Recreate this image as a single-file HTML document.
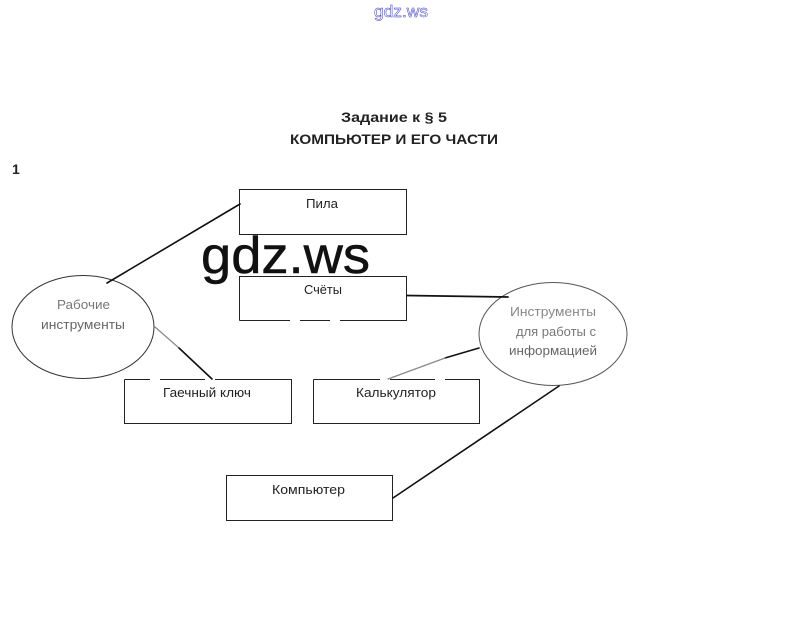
<!DOCTYPE html>
<html><head><meta charset="utf-8"><style>
html,body{margin:0;padding:0;background:#fff}
svg{display:block}
text{font-family:"Liberation Sans","DejaVu Sans",sans-serif;fill:#222}
</style></head><body>
<svg width="802" height="630" viewBox="0 0 802 630" xmlns="http://www.w3.org/2000/svg">
<rect width="802" height="630" fill="#fff"/>
<text x="374" y="17" font-size="17" textLength="54" lengthAdjust="spacingAndGlyphs" style="fill:#fff;stroke:#3a3ac8;stroke-width:.5">gdz.ws</text>
<text x="341" y="122" font-size="14" font-weight="bold" textLength="106" lengthAdjust="spacingAndGlyphs">Задание к § 5</text>
<text x="290" y="144" font-size="14" font-weight="bold" textLength="208" lengthAdjust="spacingAndGlyphs">КОМПЬЮТЕР И ЕГО ЧАСТИ</text>
<text x="12" y="174" font-size="14" font-weight="bold">1</text>

<g fill="none" stroke="#222" stroke-width="1">
<rect x="239.500" y="189.500" width="167" height="45"/>
<path d="M239.500 320.500V276.500H406.500V320.500H340M330 320.500H300M290 320.500H239.500"/>
<path d="M124.500 379.500V423.500H291.500V379.500H215M205 379.500H160M150 379.500H124.500"/>
<path d="M313.500 379.500V423.500H479.500V379.500H445M435 379.500H390M380 379.500H313.500"/>
<rect x="226.500" y="475.500" width="166" height="45"/>
<ellipse cx="83" cy="327" rx="71" ry="51.500" stroke="#333"/>
<ellipse cx="553" cy="334" rx="74" ry="51.500" stroke="#555"/>
</g>

<g fill="none" stroke-linecap="round">
<path d="M107 283L240 204" stroke="#111" stroke-width="1.600"/>
<path d="M155 327L179 348" stroke="#888" stroke-width="1.200"/>
<path d="M179 348L212 379" stroke="#111" stroke-width="1.600"/>
<path d="M407 295.500L508 297" stroke="#111" stroke-width="1.700"/>
<path d="M479 348L445 358" stroke="#111" stroke-width="1.600"/>
<path d="M445 358L388 379" stroke="#888" stroke-width="1.200"/>
<path d="M559 386L393 498" stroke="#111" stroke-width="1.600"/>
</g>

<g font-size="12.500">
<text x="306" y="208" textLength="32" lengthAdjust="spacingAndGlyphs">Пила</text>
<text x="304" y="294" textLength="38" lengthAdjust="spacingAndGlyphs">Счёты</text>
<text x="163" y="397" textLength="88" lengthAdjust="spacingAndGlyphs">Гаечный ключ</text>
<text x="356" y="397" textLength="80" lengthAdjust="spacingAndGlyphs">Калькулятор</text>
<text x="272" y="494" textLength="73" lengthAdjust="spacingAndGlyphs">Компьютер</text>
<text x="57" y="309" textLength="53" lengthAdjust="spacingAndGlyphs" style="fill:#777">Рабочие</text>
<text x="41" y="329" textLength="84" lengthAdjust="spacingAndGlyphs" style="fill:#666">инструменты</text>
<text x="510" y="316" textLength="86" lengthAdjust="spacingAndGlyphs" style="fill:#888">Инструменты</text>
<text x="516" y="336" textLength="80" lengthAdjust="spacingAndGlyphs" style="fill:#777">для работы с</text>
<text x="509" y="355" textLength="88" lengthAdjust="spacingAndGlyphs" style="fill:#666">информацией</text>
</g>

<text x="201" y="273" font-size="52" textLength="169" lengthAdjust="spacingAndGlyphs" style="fill:#111;stroke:#111;stroke-width:.5">gdz.ws</text>
</svg>
</body></html>
